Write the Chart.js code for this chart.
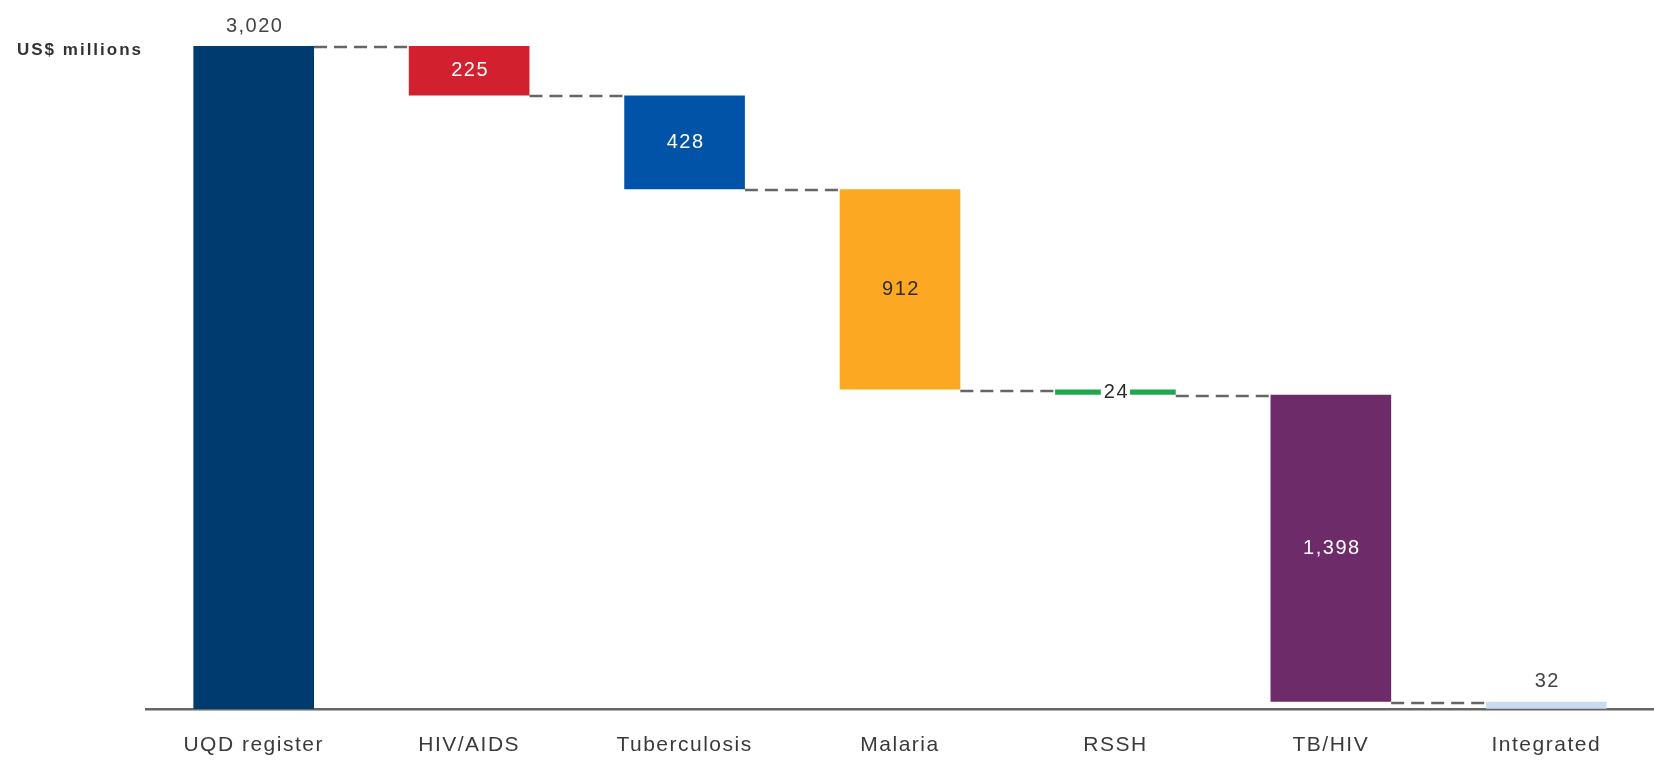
<!DOCTYPE html>
<html>
<head>
<meta charset="utf-8">
<script src="https://cdn.jsdelivr.net/npm/chart.js@4.4.1/dist/chart.umd.min.js"></script>
<style>
  html, body { margin: 0; padding: 0; background: #fff; }
  #wrap { width: 1654px; height: 760px; position: relative; }
</style>
</head>
<body>
<div id="wrap"><canvas id="waterfall"></canvas></div>
<script>
const categories = ["UQD register", "HIV/AIDS", "Tuberculosis", "Malaria", "RSSH", "TB/HIV", "Integrated"];
const values = [3020, 225, 428, 912, 24, 1398, 32];
const barColors = ["#003b6f", "#d2202f", "#0053a6", "#fca823", "#1ea84e", "#6d2b69", "#c8dcee"];
const labelColors = ["#444444", "#ffffff", "#ffffff", "#2c2c2c", "#2c2c2c", "#ffffff", "#444444"];
const labelPlace = ["above", "inside", "inside", "inside", "onLine", "inside", "above"];
const unitLabel = "US$ millions";

// floating ranges for the waterfall: first bar is the total, the rest step down
let ranges = [], level = values[0];
ranges.push([0, values[0]]);
for (let i = 1; i < values.length; i++) {
    ranges.push([level - values[i], level]);
    level -= values[i];
}

function fmt(v) {
    return v.toLocaleString("en-US");
}

const FONT = "'Liberation Sans', Arial, sans-serif";

const waterfallExtras = {
    id: "waterfallExtras",
    beforeDraw(chart) {
        // the reference text is spaced out a bit
        chart.ctx.letterSpacing = "1.5px";
    },
    afterDatasetsDraw(chart) {
        const ctx = chart.ctx;
        const y = chart.scales.y;
        const bars = chart.getDatasetMeta(0).data;

        // dashed connectors
        ctx.save();
        ctx.strokeStyle = "#666666";
        ctx.lineWidth = 2.5;
        ctx.setLineDash([13, 7]);
        for (let i = 0; i < bars.length - 1; i++) {
            const lvl = i == 0 ? ranges[0][1] : ranges[i][0];
            const py = Math.round(y.getPixelForValue(lvl)) + 1;
            const x1 = bars[i].x + bars[i].width / 2;
            const x2 = bars[i + 1].x - bars[i + 1].width / 2;
            ctx.beginPath();
            ctx.moveTo(x1, py);
            ctx.lineTo(x2, py);
            ctx.stroke();
        }
        ctx.restore();

        // value labels
        ctx.save();
        ctx.letterSpacing = "1.5px";
        ctx.font = "20px " + FONT;
        ctx.textAlign = "center";
        ctx.textBaseline = "middle";
        bars.forEach(function(bar, i) {
            const text = fmt(values[i]);
            const top = y.getPixelForValue(ranges[i][1]);
            const bottom = y.getPixelForValue(ranges[i][0]);
            let py;
            if (labelPlace[i] == "above") {
                py = top - 20;
            } else {
                py = (top + bottom) / 2;
            }
            if (labelPlace[i] == "onLine") {
                const w = ctx.measureText(text).width + 4;
                ctx.fillStyle = "#ffffff";
                ctx.fillRect(bar.x - w / 2, py - 6, w, 12);
            }
            ctx.fillStyle = labelColors[i];
            ctx.fillText(text, bar.x + 1, py);
        });
        ctx.restore();

        // unit label
        ctx.save();
        ctx.letterSpacing = "2px";
        ctx.font = "bold 17px " + FONT;
        ctx.fillStyle = "#333333";
        ctx.textAlign = "left";
        ctx.textBaseline = "middle";
        ctx.fillText(unitLabel, 17, 50);
        ctx.restore();
    }
};

new Chart("waterfall", {
    type: "bar",
    data: {
        labels: categories,
        datasets: [{
            data: ranges,
            backgroundColor: barColors,
            borderWidth: 0,
            borderSkipped: false,
            barPercentage: 1,
            categoryPercentage: 0.56
        }]
    },
    options: {
        responsive: true,
        maintainAspectRatio: false,
        animation: false,
        layout: {
            padding: { left: 146, right: 0, top: 46, bottom: 4 }
        },
        plugins: {
            legend: { display: false },
            tooltip: { enabled: false }
        },
        scales: {
            x: {
                grid: { display: false, drawTicks: false },
                border: { display: true, color: "#666666", width: 2.5 },
                afterFit: function(scale) { scale.height = 47; },
                ticks: {
                    color: "#3a3a3a",
                    padding: 24,
                    font: { family: FONT, size: 21 }
                }
            },
            y: {
                display: false,
                min: 0,
                max: 3020
            }
        }
    },
    plugins: [waterfallExtras]
});
</script>
</body>
</html>
